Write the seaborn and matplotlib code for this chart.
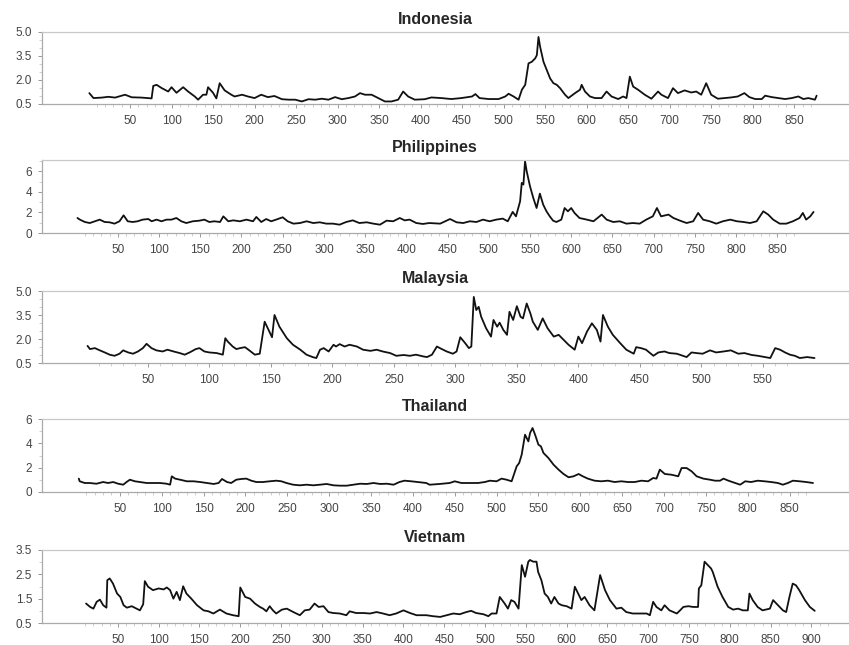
import seaborn as sns
import pandas as pd
import matplotlib
matplotlib.use('Agg')
import matplotlib.pyplot as plt
from matplotlib.ticker import FixedLocator, MultipleLocator

sns.set_style('white')
plt.rcParams['font.family'] = ['Liberation Sans', 'DejaVu Sans']

# Indonesia
idn_x = [1, 6, 16, 24, 32, 44, 52, 64, 76, 78, 82, 88, 96, 100, 106, 114, 120, 128, 132, 138,
         142, 144, 150, 154, 158, 164, 172, 176, 185, 192, 200, 208, 216, 224, 233, 241, 249, 257,
         265, 273, 281, 289, 297, 305, 313, 321, 327, 333, 341, 349, 357, 365, 373, 379, 385, 393,
         405, 413, 425, 437, 449, 462, 466, 471, 482, 494, 502, 506, 512, 518, 522, 526, 530, 534,
         538, 540, 542, 544, 548, 552, 556, 560, 564, 568, 574, 578, 586, 592, 594, 598, 604, 610,
         618, 624, 630, 638, 644, 648, 652, 656, 662, 670, 678, 686, 690, 698, 704, 710, 718, 726,
         732, 738, 744, 750, 758, 766, 774, 782, 790, 796, 803, 811, 815, 823, 831, 839, 847, 855,
         861, 867, 875, 877]
idn_y = [1.18, 0.87, 0.90, 0.95, 0.90, 1.08, 0.92, 0.90, 0.85, 1.63, 1.70, 1.50, 1.28, 1.55, 1.20,
         1.55, 1.28, 0.97, 0.77, 1.08, 1.08, 1.55, 1.20, 0.85, 1.80, 1.35, 1.08, 0.97, 1.08, 0.97,
         0.87, 1.08, 0.93, 1.00, 0.80, 0.77, 0.77, 0.66, 0.80, 0.77, 0.83, 0.77, 0.93, 0.80, 0.87,
         0.97, 1.18, 1.08, 1.08, 0.87, 0.66, 0.66, 0.77, 1.28, 0.97, 0.77, 0.80, 0.91, 0.87, 0.81,
         0.87, 0.97, 1.12, 0.87, 0.81, 0.81, 0.97, 1.14, 0.97, 0.77, 1.39, 1.70, 3.04, 3.14, 3.35,
         3.55, 4.69, 4.07, 3.14, 2.62, 2.10, 1.80, 1.70, 1.49, 1.08, 0.87, 1.18, 1.39, 1.70, 1.28,
         0.97, 0.87, 0.87, 1.28, 0.97, 0.81, 0.97, 0.87, 2.21, 1.59, 1.39, 1.08, 0.83, 1.28, 1.08,
         0.87, 1.49, 1.18, 1.35, 1.22, 1.28, 1.08, 1.80, 1.08, 0.83, 0.87, 0.91, 0.97, 1.18, 0.93,
         0.81, 0.81, 1.02, 0.93, 0.87, 0.81, 0.87, 0.97, 0.81, 0.87, 0.77, 1.02]

# Philippines
phl_x = [1, 4, 10, 16, 22, 28, 34, 40, 46, 52, 57, 62, 68, 74, 80, 87, 91, 97, 103, 109, 115, 121,
         127, 133, 141, 149, 155, 161, 167, 174, 178, 184, 190, 198, 206, 214, 218, 224, 230, 236,
         242, 250, 256, 263, 271, 279, 287, 295, 303, 311, 319, 327, 335, 343, 352, 360, 368, 376,
         384, 392, 398, 404, 412, 420, 428, 441, 453, 461, 469, 477, 485, 493, 501, 509, 517, 523,
         529, 533, 538, 540, 542, 544, 546, 550, 554, 558, 562, 566, 570, 574, 578, 582, 588, 592,
         596, 600, 604, 610, 619, 627, 637, 643, 651, 659, 667, 675, 683, 691, 699, 704, 709, 718,
         724, 732, 740, 748, 754, 760, 768, 776, 784, 793, 801, 809, 817, 825, 833, 839, 845, 853,
         861, 869, 877, 881, 885, 890, 894]
phl_y = [1.46, 1.30, 1.07, 0.97, 1.14, 1.30, 1.07, 1.04, 0.91, 1.14, 1.72, 1.14, 1.07, 1.14, 1.30,
         1.36, 1.14, 1.30, 1.14, 1.30, 1.30, 1.46, 1.14, 0.97, 1.14, 1.20, 1.30, 1.07, 1.14, 1.07,
         1.62, 1.14, 1.23, 1.14, 1.30, 1.14, 1.56, 1.07, 1.36, 1.14, 1.30, 1.53, 1.14, 0.91, 0.97,
         1.14, 0.97, 1.04, 0.91, 0.91, 0.81, 1.07, 1.23, 0.97, 1.04, 0.91, 0.81, 1.20, 1.14, 1.46,
         1.23, 1.30, 0.97, 0.88, 0.97, 0.91, 1.36, 1.04, 0.97, 1.14, 1.07, 1.30, 1.14, 1.30, 1.40,
         1.14, 2.05, 1.62, 3.08, 4.87, 4.71, 6.98, 6.00, 4.55, 3.41, 2.43, 3.83, 2.76, 2.11, 1.62,
         1.20, 1.07, 1.30, 2.43, 2.11, 2.43, 1.95, 1.46, 1.30, 1.14, 1.79, 1.30, 1.07, 1.14, 0.91,
         0.97, 0.91, 1.30, 1.62, 2.43, 1.62, 1.79, 1.46, 1.20, 0.97, 1.14, 1.95, 1.30, 1.14, 0.91,
         1.14, 1.30, 1.14, 1.07, 0.97, 1.14, 2.11, 1.79, 1.30, 0.91, 0.91, 1.14, 1.46, 1.95, 1.30,
         1.62, 2.05]

# Malaysia
mys_x = [1, 3, 7, 11, 15, 19, 23, 27, 30, 34, 38, 42, 46, 49, 53, 57, 62, 66, 71, 76, 80, 84, 89,
         92, 96, 100, 106, 111, 113, 115, 119, 122, 125, 129, 133, 137, 141, 145, 151, 153, 157,
         163, 168, 174, 179, 184, 187, 190, 193, 197, 201, 203, 206, 210, 214, 220, 225, 231, 236,
         241, 247, 252, 258, 263, 268, 274, 277, 281, 285, 289, 293, 298, 301, 304, 308, 311, 313,
         315, 317, 319, 321, 325, 329, 331, 334, 336, 339, 342, 344, 347, 350, 353, 355, 358, 361,
         363, 367, 371, 375, 380, 384, 388, 392, 397, 400, 403, 407, 411, 415, 418, 420, 424, 428,
         434, 439, 445, 447, 451, 455, 461, 465, 470, 474, 480, 485, 488, 492, 496, 501, 507, 512,
         518, 524, 530, 535, 541, 546, 552, 556, 560, 564, 568, 572, 576, 580, 586, 592]
mys_y = [1.57, 1.37, 1.43, 1.29, 1.16, 1.02, 0.95, 1.08, 1.29, 1.16, 1.08, 1.22, 1.43, 1.70, 1.43,
         1.29, 1.22, 1.33, 1.22, 1.12, 1.02, 1.16, 1.37, 1.43, 1.22, 1.16, 1.12, 1.02, 2.05, 1.84,
         1.53, 1.37, 1.43, 1.49, 1.26, 1.02, 1.08, 3.08, 2.11, 3.50, 2.77, 2.05, 1.64, 1.33, 1.02,
         0.87, 0.81, 1.33, 1.43, 1.22, 1.64, 1.53, 1.68, 1.53, 1.64, 1.53, 1.33, 1.26, 1.33, 1.22,
         1.12, 0.95, 1.00, 0.95, 1.02, 0.91, 0.87, 1.02, 1.53, 1.37, 1.22, 1.08, 1.22, 2.11, 1.74,
         1.43, 1.53, 4.63, 3.81, 4.01, 3.39, 2.67, 2.15, 3.19, 2.77, 3.02, 2.57, 2.26, 3.70, 3.19,
         4.05, 3.39, 3.29, 4.22, 3.60, 3.08, 2.57, 3.29, 2.67, 2.15, 2.26, 1.95, 1.64, 1.33, 2.15,
         1.74, 2.46, 2.98, 2.57, 1.84, 3.50, 2.77, 2.26, 1.74, 1.33, 1.08, 1.49, 1.43, 1.33, 0.95,
         1.16, 1.22, 1.12, 1.08, 0.95, 0.87, 1.16, 1.12, 1.08, 1.29, 1.16, 1.22, 1.29, 1.08, 1.12,
         1.00, 0.95, 0.87, 0.81, 1.43, 1.33, 1.16, 1.02, 0.95, 0.81, 0.87, 0.81]

# Thailand
tha_x = [1, 2, 8, 14, 22, 30, 36, 42, 48, 54, 58, 62, 68, 74, 82, 90, 98, 106, 110, 112, 116, 122,
         130, 138, 146, 154, 162, 168, 172, 178, 183, 189, 195, 201, 207, 213, 221, 229, 237, 243,
         249, 257, 265, 273, 281, 289, 297, 305, 313, 321, 329, 337, 345, 353, 361, 369, 377, 384,
         390, 398, 406, 416, 420, 432, 444, 450, 458, 468, 478, 486, 492, 500, 506, 512, 518, 524,
         527, 530, 534, 538, 540, 543, 546, 550, 553, 556, 562, 568, 574, 580, 586, 592, 598, 603,
         609, 617, 625, 633, 641, 649, 657, 665, 673, 681, 687, 691, 695, 701, 709, 717, 721, 727,
         733, 739, 747, 755, 761, 767, 771, 777, 785, 791, 797, 804, 812, 820, 828, 836, 842, 848,
         854, 862, 870, 878]
tha_y = [1.10, 0.88, 0.74, 0.74, 0.68, 0.82, 0.74, 0.82, 0.68, 0.60, 0.82, 1.01, 0.88, 0.82, 0.74,
         0.74, 0.74, 0.68, 0.60, 1.29, 1.10, 1.01, 0.88, 0.88, 0.82, 0.74, 0.66, 0.74, 1.07, 0.82,
         0.74, 1.01, 1.07, 1.10, 0.93, 0.82, 0.82, 0.88, 0.93, 0.88, 0.74, 0.60, 0.55, 0.60, 0.55,
         0.60, 0.66, 0.55, 0.52, 0.52, 0.60, 0.68, 0.66, 0.74, 0.66, 0.68, 0.60, 0.82, 0.93, 0.88,
         0.82, 0.74, 0.60, 0.66, 0.74, 0.88, 0.74, 0.74, 0.74, 0.82, 0.93, 0.88, 1.10, 1.01, 0.88,
         2.11, 2.38, 3.07, 4.71, 4.16, 4.85, 5.26, 4.71, 3.89, 3.75, 3.21, 2.79, 2.25, 1.84, 1.48,
         1.21, 1.29, 1.48, 1.29, 1.10, 0.93, 0.88, 0.93, 0.82, 0.88, 0.82, 0.82, 0.93, 0.88, 1.15,
         1.10, 1.84, 1.48, 1.42, 1.29, 1.97, 1.97, 1.70, 1.29, 1.10, 1.01, 0.93, 0.93, 1.10, 0.93,
         0.74, 0.60, 0.88, 0.82, 0.93, 0.88, 0.82, 0.74, 0.60, 0.74, 0.93, 0.88, 0.82, 0.74]

# Vietnam
vnm_x = [11, 16, 20, 24, 28, 32, 36, 37, 40, 44, 49, 53, 57, 61, 67, 73, 77, 81, 83, 87, 93, 100,
         106, 110, 114, 118, 122, 126, 130, 134, 140, 147, 155, 161, 167, 175, 183, 191, 198, 200,
         206, 212, 218, 224, 228, 232, 236, 240, 244, 251, 257, 265, 273, 279, 285, 291, 296, 302,
         308, 314, 322, 330, 334, 342, 351, 359, 367, 375, 383, 391, 400, 408, 416, 428, 436, 445,
         453, 461, 469, 477, 483, 489, 498, 504, 508, 514, 518, 524, 528, 532, 536, 541, 543, 545,
         549, 553, 555, 559, 563, 565, 569, 573, 577, 581, 585, 590, 594, 600, 606, 610, 614, 618,
         622, 628, 634, 641, 647, 653, 661, 667, 673, 681, 689, 698, 702, 706, 710, 716, 720, 726,
         735, 739, 743, 749, 755, 761, 762, 765, 769, 773, 777, 779, 785, 791, 798, 804, 810, 816,
         822, 824, 828, 834, 840, 849, 853, 859, 865, 869, 873, 877, 881, 885, 892, 898, 904]
vnm_y = [1.30, 1.16, 1.09, 1.37, 1.46, 1.23, 1.13, 2.26, 2.33, 2.12, 1.71, 1.57, 1.23, 1.13, 1.19,
         1.09, 1.02, 1.27, 2.22, 1.99, 1.85, 1.92, 1.88, 1.96, 1.85, 1.50, 1.78, 1.44, 2.01, 1.71,
         1.50, 1.23, 1.02, 0.98, 0.89, 1.05, 0.89, 0.82, 0.78, 1.96, 1.57, 1.50, 1.30, 1.16, 1.09,
         0.98, 1.19, 1.02, 0.89, 1.05, 1.09, 0.95, 0.82, 1.02, 1.05, 1.30, 1.16, 1.19, 0.95, 0.91,
         0.89, 0.82, 0.98, 0.91, 0.91, 0.89, 0.95, 0.89, 0.82, 0.89, 1.02, 0.91, 0.82, 0.82, 0.78,
         0.75, 0.82, 0.89, 0.86, 0.95, 1.00, 0.91, 0.86, 0.78, 0.89, 0.89, 1.57, 1.30, 1.09, 1.44,
         1.37, 1.09, 1.99, 2.88, 2.40, 3.02, 3.09, 3.02, 3.02, 2.60, 2.26, 1.71, 1.57, 1.30, 1.57,
         1.30, 1.23, 1.19, 1.09, 1.99, 1.71, 1.44, 1.57, 1.23, 1.02, 2.47, 1.85, 1.44, 1.09, 1.13,
         0.95, 0.89, 0.89, 0.89, 0.82, 1.37, 1.16, 1.02, 1.23, 1.02, 0.89, 1.02, 1.16, 1.19, 1.16,
         1.16, 1.92, 2.05, 3.02, 2.88, 2.74, 2.60, 1.99, 1.57, 1.16, 1.05, 1.09, 1.02, 1.02, 1.71,
         1.44, 1.16, 1.02, 1.09, 1.44, 1.23, 1.02, 0.95, 1.57, 2.12, 2.05, 1.85, 1.44, 1.16, 1.00]

titles = ['Indonesia', 'Philippines', 'Malaysia', 'Thailand', 'Vietnam']
series = [(idn_x, idn_y), (phl_x, phl_y), (mys_x, mys_y), (tha_x, tha_y), (vnm_x, vnm_y)]
y_major = [[0.5, 2.0, 3.5, 5.0], [0, 2, 4, 6], [0.5, 2.0, 3.5, 5.0], [0, 2, 4, 6], [0.5, 1.5, 2.5, 3.5]]
y_labels = [['0.5', '2.0', '3.5', '5.0'], ['0', '2', '4', '6'], ['0.5', '2.0', '3.5', '5.0'],
            ['0', '2', '4', '6'], ['0.5', '1.5', '2.5', '3.5']]
x_last = [850, 850, 550, 850, 900]

# layout (pixels) and axis ranges per panel
W, H = 849, 645
panel_px = [(32, 104), (160, 233), (291, 363), (419, 492), (550, 623)]
x_lims = [(-56, 916), (-42, 937), (-36, 620), (-43, 921), (-43, 946)]
y_lims = [(0.5, 5.0), (0, 7.1), (0.5, 5.0), (0, 6), (0.5, 3.5)]
y_minor = [0.5, 1, 0.5, 1, 0.5]

fig = plt.figure(figsize=(W / 100, H / 100), dpi=100)
left_px = 42

for i, name in enumerate(titles):
    top, bot = panel_px[i]
    ax = fig.add_axes([left_px / W, 1 - bot / H, (W - left_px) / W, (bot - top) / H])
    df = pd.DataFrame({'x': series[i][0], 'y': series[i][1]})
    sns.lineplot(data=df, x='x', y='y', ax=ax, color='#111111', linewidth=1.3,
                 estimator=None, sort=False)
    ax.set_xlim(*x_lims[i])
    ax.set_ylim(*y_lims[i])
    ax.set_xlabel('')
    ax.set_ylabel('')
    ax.set_yticks(y_major[i])
    ax.set_yticklabels(y_labels[i])
    ax.yaxis.set_minor_locator(MultipleLocator(y_minor[i]))
    ax.set_xticks(list(range(50, x_last[i] + 1, 50)))
    ax.xaxis.set_minor_locator(FixedLocator(list(range(10, x_last[i] + 30, 10))))
    ax.tick_params(axis='both', which='major', length=3, width=0.7, color='#999999',
                   labelsize=8.5, labelcolor='#444444', direction='out', pad=4)
    ax.tick_params(axis='x', which='major', pad=5)
    ax.tick_params(axis='both', which='minor', length=2, width=0.5, color='#bbbbbb', direction='out')
    ax.tick_params(axis='x', which='both', bottom=True)
    ax.tick_params(axis='y', which='both', left=True)
    for side, col in [('left', '#aaaaaa'), ('bottom', '#aaaaaa'), ('top', '#c8c8c8'), ('right', '#e0e0e0')]:
        ax.spines[side].set_visible(True)
        ax.spines[side].set_color(col)
        ax.spines[side].set_linewidth(0.9)
    ax.set_title(name, fontsize=11.5, fontweight='bold', x=0.487, pad=5.5)
    ax.grid(False)

fig.savefig('out.png', dpi=100)
